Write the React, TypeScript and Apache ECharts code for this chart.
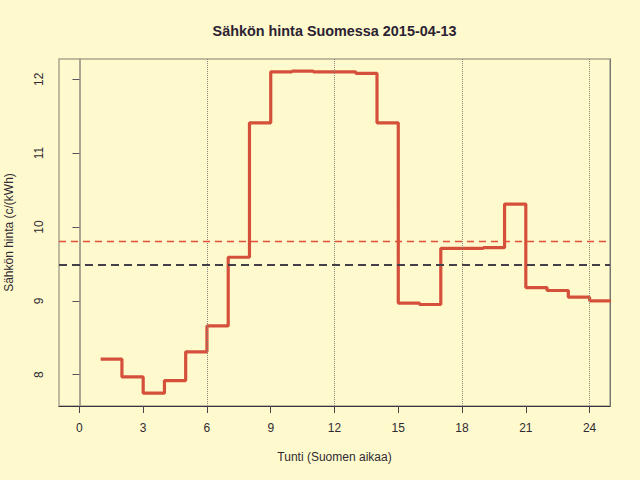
import React, { useEffect, useRef } from "react";
import * as echarts from "echarts";

const hours = [1, 2, 3, 4, 5, 6, 7, 8, 9, 10, 11, 12, 13, 14, 15, 16, 17, 18, 19, 20, 21, 22, 23, 24];
const prices = [
  8.21, 7.97, 7.75, 7.92, 8.31, 8.66, 9.59, 11.41, 12.1, 12.11, 12.1, 12.1,
  12.08, 11.41, 8.97, 8.95, 9.71, 9.71, 9.72, 10.31, 9.18, 9.14, 9.05, 9.0,
];
const xTicks = [0, 3, 6, 9, 12, 15, 18, 21, 24];
const yTicks = [8, 9, 10, 11, 12];
const guideHours = [6, 12, 18, 24];
const dailyAverage = 9.81;
const referenceLevel = 9.49;
const xRange = [-0.96, 24.96];
const yRange = [7.576, 12.274];
const titleText = "Sähkön hinta Suomessa 2015-04-13";
const xName = "Tunti (Suomen aikaa)";
const yName = "Sähkön hinta (c/(kWh)";

const FONT = '"Liberation Sans", Arial, Helvetica, sans-serif';

export default function App() {
  const ref = useRef<HTMLDivElement>(null);

  useEffect(() => {
    document.body.style.margin = "0";
    if (!ref.current) return;
    const chart = echarts.init(ref.current, null, { renderer: "svg" });

    const stepData: number[][] = hours.map((h, i) => [h, prices[i]]);
    stepData.push([hours[hours.length - 1] + 1, prices[prices.length - 1]]);

    chart.setOption({
      animation: false,
      backgroundColor: "#FFFACD",
      textStyle: { fontFamily: FONT },
      graphic: [
        {
          type: "text",
          x: 334.5,
          y: 31,
          style: {
            text: titleText,
            font: `bold 14.4px ${FONT}`,
            fill: "#2b2233",
            textAlign: "center",
            textVerticalAlign: "middle",
          },
        },
      ],
      grid: {
        left: 59,
        top: 59,
        right: 30,
        bottom: 74,
        show: true,
        borderColor: "#aaa690",
        borderWidth: 1.5,
        backgroundColor: "transparent",
        containLabel: false,
        outerBoundsMode: "none",
      },
      xAxis: {
        type: "value",
        min: xRange[0],
        max: xRange[1],
        name: xName,
        nameLocation: "middle",
        nameGap: 45,
        nameTextStyle: { fontSize: 12, color: "#2f2a33", fontFamily: FONT },
        axisLine: { show: true, lineStyle: { color: "#3a3340", width: 1.2 } },
        axisTick: {
          show: true,
          length: 7,
          inside: false,
          customValues: xTicks,
          lineStyle: { color: "#4a4450", width: 1 },
        },
        axisLabel: {
          customValues: xTicks,
          margin: 16,
          fontSize: 12,
          color: "#2f2a33",
          fontFamily: FONT,
        },
        splitLine: { show: false },
      },
      yAxis: [
        {
          type: "value",
          min: yRange[0],
          max: yRange[1],
          name: yName,
          nameLocation: "middle",
          nameGap: 44,
          nameRotate: 90,
          nameTextStyle: { fontSize: 12, color: "#2f2a33", fontFamily: FONT },
          axisLine: { show: true, lineStyle: { color: "#aaa690", width: 2 } },
          axisTick: {
            show: true,
            length: 7,
            customValues: yTicks,
            lineStyle: { color: "#5a5560", width: 1 },
          },
          axisLabel: {
            customValues: yTicks,
            rotate: 90,
            margin: 14,
            fontSize: 12,
            color: "#2f2a33",
            fontFamily: FONT,
          },
          splitLine: { show: false },
        },
        {
          type: "value",
          position: "right",
          min: yRange[0],
          max: yRange[1],
          axisLine: { show: true, lineStyle: { color: "#777777", width: 1 } },
          axisTick: { show: false },
          axisLabel: { show: false },
          splitLine: { show: false },
        },
      ],
      series: [
        {
          type: "line",
          data: stepData,
          step: "end",
          showSymbol: false,
          symbol: "none",
          clip: true,
          lineStyle: { color: "#d5503a", width: 3.2 },
          markLine: {
            silent: true,
            symbol: "none",
            label: { show: false },
            data: [
              ...guideHours.map((h) => ({
                xAxis: h,
                lineStyle: { color: "#8a867c", type: "dotted", width: 1 },
              })),
              {
                yAxis: dailyAverage,
                lineStyle: { color: "#e0503a", type: [7, 5], width: 1.3, opacity: 1 },
              },
              {
                yAxis: referenceLevel,
                lineStyle: { color: "#444048", type: [8, 5], width: 2, opacity: 1 },
              },
            ],
          },
        },
      ],
    });

    return () => chart.dispose();
  }, []);

  return <div ref={ref} style={{ width: 640, height: 480 }} />;
}
